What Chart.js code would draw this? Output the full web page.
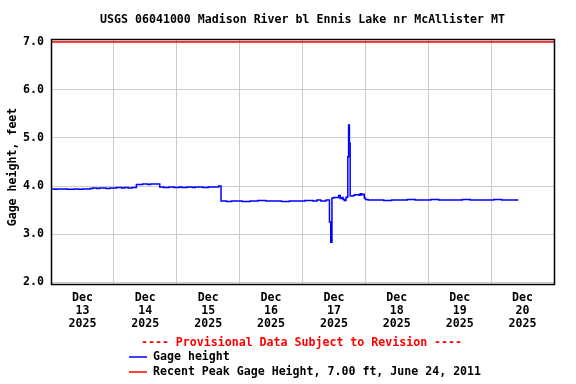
<!DOCTYPE html>
<html>
<head>
<meta charset="utf-8">
<script src="https://cdn.jsdelivr.net/npm/chart.js@4.4.6/dist/chart.umd.min.js"></script>
<style>
  html, body { margin: 0; padding: 0; background: #fff; }
  #wrap { width: 576px; height: 384px; }
</style>
</head>
<body>
<div id="wrap"><canvas id="chart" width="576" height="384"></canvas></div>
<script>
const titleText = 'USGS 06041000 Madison River bl Ennis Lake nr McAllister MT';
const yTitle = 'Gage height, feet';
const noteText = '---- Provisional Data Subject to Revision ----';
const monthLabel = 'Dec';
const dayNumbers = ['13', '14', '15', '16', '17', '18', '19', '20'];
const yearLabel = '2025';
const dayTickHours = [12, 36, 60, 84, 108, 132, 156, 180];
const yTicks = [2, 3, 4, 5, 6, 7];

// hours since Dec 13 00:00, gage height in feet
const gageHours = [
  0, 1.5, 2.5, 5, 6, 8, 9, 10.5, 12, 13.5, 15, 16, 17.5, 18.5, 20, 21, 22.5, 24, 25, 27, 28, 29.5, 31,
  32.6, 35, 37, 38, 41.5, 43, 45, 47, 49, 50, 52, 54, 55, 57, 58, 60, 61, 63, 64,
  64.9, 67, 69, 71, 73, 76, 79, 82, 85, 88, 91, 94, 97, 100, 101.5, 103, 105,
  106.29, 106.78, 107.24, 108, 109.8, 110.4, 111.1, 111.5, 112, 112.6, 113.0,
  113.3, 113.6, 113.9, 114.2, 115.5, 116, 117.5, 118, 118.5, 119, 119.6, 120, 121,
  124, 127, 130, 133, 136, 139, 142, 145, 148, 151, 154, 157, 160, 163, 166, 169, 172, 175, 178.4
];
const gageFeet = [
  3.94, 3.93, 3.94, 3.94, 3.93, 3.93, 3.94, 3.93, 3.94, 3.94, 3.95, 3.96, 3.95, 3.96, 3.96, 3.95, 3.96, 3.96, 3.97, 3.96, 3.97, 3.96, 3.97,
  4.03, 4.04, 4.03, 4.04, 3.98, 3.97, 3.98, 3.97, 3.98, 3.97, 3.98, 3.97, 3.98, 3.98, 3.97, 3.98, 3.98, 3.98, 4.00,
  3.69, 3.68, 3.69, 3.69, 3.68, 3.69, 3.70, 3.69, 3.69, 3.68, 3.69, 3.69, 3.70, 3.69, 3.71, 3.69, 3.71,
  3.25, 2.83, 3.75, 3.76, 3.80, 3.74, 3.76, 3.72, 3.70, 3.76, 3.77,
  4.61, 5.27, 4.89, 3.79, 3.81, 3.82, 3.81, 3.84, 3.82, 3.83, 3.75, 3.72, 3.71,
  3.71, 3.70, 3.71, 3.71, 3.72, 3.71, 3.71, 3.72, 3.71, 3.71, 3.71, 3.72, 3.71, 3.71, 3.71, 3.72, 3.71, 3.71, 3.71
];
const peakHours = [0, 192];
const peakFeet = [7.0, 7.0];

const FONT = '"DejaVu Sans Mono", "Liberation Mono", monospace';
Chart.defaults.font.family = FONT;
Chart.defaults.font.weight = 'bold';
Chart.defaults.font.size = 11.6;
Chart.defaults.color = '#000';

const toPoints = (xs, ys) => xs.map((x, i) => ({ x, y: ys[i] }));

const framePlugin = {
  id: 'frame',
  afterDraw(chart) {
    const { ctx, chartArea: a } = chart;
    ctx.save();
    ctx.strokeStyle = '#000';
    ctx.lineWidth = 1.5;
    ctx.strokeRect(a.left + 0.5, a.top + 0.5, a.right - a.left, a.bottom - a.top);

    ctx.font = 'bold 11.6px ' + FONT;
    ctx.fillStyle = '#000';
    ctx.textBaseline = 'middle';
    ctx.save();
    ctx.translate(13, 167);
    ctx.rotate(-Math.PI / 2);
    ctx.textAlign = 'center';
    ctx.fillText(yTitle, 0, 0);
    ctx.restore();

    ctx.textAlign = 'center';
    ctx.fillStyle = '#ff0000';
    ctx.fillText(noteText, 301.5, 342.5);

    ctx.textAlign = 'left';
    chart.data.datasets.forEach((ds, i) => {
      const y = 356.5 + i * 15.5;
      ctx.strokeStyle = ds.borderColor;
      ctx.lineWidth = 1.5;
      ctx.beginPath();
      ctx.moveTo(129, Math.round(y));
      ctx.lineTo(147, Math.round(y));
      ctx.stroke();
      ctx.fillStyle = '#000';
      ctx.fillText(ds.label, 153, y);
    });
    ctx.restore();
  }
};

new Chart(document.getElementById('chart'), {
  type: 'line',
  data: {
    datasets: [
      {
        label: 'Gage height',
        data: toPoints(gageHours, gageFeet),
        borderColor: '#0000ff',
        borderWidth: 1.5,
        pointRadius: 0,
        stepped: true,
        fill: false
      },
      {
        label: 'Recent Peak Gage Height, 7.00 ft, June 24, 2011',
        data: toPoints(peakHours, peakFeet),
        borderColor: '#ff0000',
        borderWidth: 1.5,
        pointRadius: 0,
        fill: false
      }
    ]
  },
  options: {
    responsive: false,
    devicePixelRatio: 1,
    animation: false,
    layout: { padding: { left: 0, right: 22, top: 0, bottom: 0 } },
    plugins: {
      legend: { display: false },
      tooltip: { enabled: false },
      title: {
        display: true,
        text: titleText,
        fullSize: false,
        color: '#000',
        font: { size: 11.6, weight: 'bold', family: FONT, lineHeight: 1.2 },
        padding: { top: 13, bottom: 12.1 }
      }
    },
    scales: {
      x: {
        type: 'linear',
        min: 0,
        max: 192,
        afterBuildTicks: scale => { scale.ticks = dayTickHours.map(v => ({ value: v })); },
        afterFit: scale => { scale.height = 100; },
        ticks: {
          autoSkip: false,
          maxRotation: 0,
          padding: 7,
          font: { size: 11.6, weight: 'bold', family: FONT, lineHeight: '13px' },
          callback: (v, i) => [monthLabel, dayNumbers[i], yearLabel]
        },
        grid: { color: '#cccccc', offset: true, drawTicks: false, lineWidth: 1 },
        border: { display: false }
      },
      y: {
        min: 1.96,
        max: 7.06,
        afterBuildTicks: scale => { scale.ticks = yTicks.map(v => ({ value: v })); },
        afterFit: scale => { scale.width = 51; },
        ticks: {
          padding: 7,
          callback: v => v.toFixed(1)
        },
        grid: { color: '#cccccc', drawTicks: false, lineWidth: 1 },
        border: { display: false }
      }
    }
  },
  plugins: [framePlugin]
});
</script>
</body>
</html>
